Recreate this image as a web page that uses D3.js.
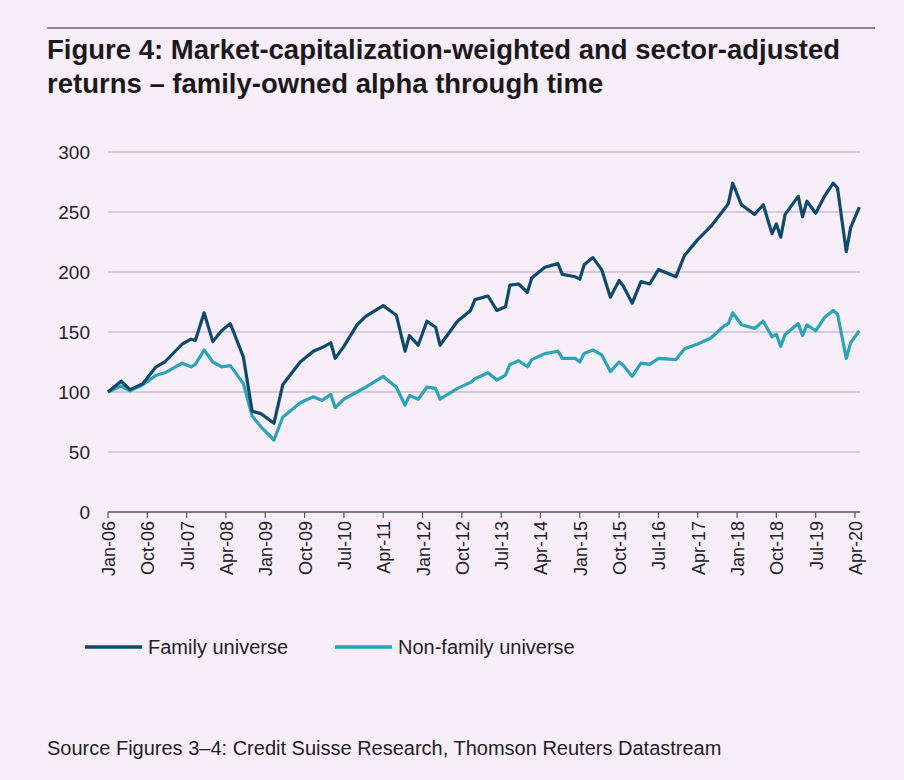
<!DOCTYPE html>
<html><head><meta charset="utf-8">
<script src="https://cdn.jsdelivr.net/npm/d3@7"></script>
<style>
body{margin:0;background:#f7eefa;}
svg{font-family:"Liberation Sans",Arial,sans-serif;}
</style></head>
<body><svg id="chart" width="904" height="780"></svg>
<script>
// months since Jan-06
var months = [0,3,5,8,11,13,17,19,20,22,24,26,28,31,33,35,38,40,44,47,49,51,52,54,57,59,63,66,68,69,71,73,75,76,80,83,84,87,89,91,92,94,96,97,100,103,104,107,108,109,111,113,115,117,118,120,122,124,126,130,132,135,138,141,142,143,145,148,150,152,153,154,155,158,159,160,162,164,166,167,169,170,172];
var family = [100,109,102,107,121,125,140,144,143,166,142,151,157,129,84,82,74,106,125,134,137,141,128,138,156,163,172,164,134,147,139,159,154,139,159,168,177,180,168,171,189,190,183,195,204,207,198,196,194,206,212,202,179,193,188,174,192,190,202,196,214,227,238,252,257,274,256,248,256,232,240,229,248,263,246,259,249,263,274,270,217,237,254];
var nonFamily = [100,105,101,106,114,116,124,121,123,135,125,121,122,107,80,71,60,79,91,96,93,98,87,94,100,104,113,104,89,97,94,104,103,94,103,108,111,116,110,114,123,126,121,127,132,134,128,128,125,132,135,131,117,125,122,113,124,123,128,127,136,140,145,155,157,166,156,153,159,146,148,138,148,157,147,156,151,162,168,165,128,141,151];
var tickLabels = ["Jan-06","Oct-06","Jul-07","Apr-08","Jan-09","Oct-09","Jul-10","Apr-11","Jan-12","Oct-12","Jul-13","Apr-14","Jan-15","Oct-15","Jul-16","Apr-17","Jan-18","Oct-18","Jul-19","Apr-20"];
var yTicks = [0,50,100,150,200,250,300];

var svg = d3.select("#chart");
svg.append("line").attr("x1",47).attr("x2",875).attr("y1",28).attr("y2",28).attr("stroke","#222").attr("stroke-width",1.2);
svg.append("text").attr("x",47).attr("y",59).attr("font-size",27.5).attr("font-weight","bold").attr("fill","#1a1a1a").text("Figure 4: Market-capitalization-weighted and sector-adjusted");
svg.append("text").attr("x",47).attr("y",93).attr("font-size",27.5).attr("font-weight","bold").attr("fill","#1a1a1a").text("returns \u2013 family-owned alpha through time");

var x = d3.scaleLinear().domain([0,171]).range([108,855]);
var y = d3.scaleLinear().domain([0,300]).range([512,152]);

var grid = svg.append("g");
grid.selectAll("line").data(yTicks).enter().append("line")
  .attr("x1",108).attr("x2",860)
  .attr("y1",function(d){return y(d);}).attr("y2",function(d){return y(d);})
  .attr("stroke",function(d){return d===0?"#555":"#c8bcd3";}).attr("stroke-width",1.5);
grid.selectAll("text").data(yTicks).enter().append("text")
  .attr("x",90).attr("y",function(d){return y(d)+7;}).attr("text-anchor","end")
  .attr("font-size",19).attr("fill","#222").text(function(d){return d;});

var xt = svg.append("g");
tickLabels.forEach(function(t,i){
  var px = x(i*9);
  xt.append("line").attr("x1",px).attr("x2",px).attr("y1",512).attr("y2",518).attr("stroke","#555").attr("stroke-width",1.2);
  xt.append("text").attr("transform","translate("+(px+7)+",521) rotate(-90)")
    .attr("text-anchor","end").attr("font-size",18).attr("fill","#222").text(t);
});

var line = d3.line().x(function(d){return x(d[0]);}).y(function(d){return y(d[1]);});
svg.append("path").datum(months.map(function(m,i){return [m,nonFamily[i]];}))
  .attr("d",line).attr("fill","none").attr("stroke","#2ba4b8").attr("stroke-width",3.2).attr("stroke-linejoin","round");
svg.append("path").datum(months.map(function(m,i){return [m,family[i]];}))
  .attr("d",line).attr("fill","none").attr("stroke","#0f4a6c").attr("stroke-width",3.2).attr("stroke-linejoin","round");

var leg = [["Family universe","#0f4a6c",85],["Non-family universe","#2ba4b8",335]];
leg.forEach(function(l){
  svg.append("line").attr("x1",l[2]).attr("x2",l[2]+57).attr("y1",647).attr("y2",647).attr("stroke",l[1]).attr("stroke-width",3.5);
  svg.append("text").attr("x",l[2]+63).attr("y",654).attr("font-size",20).attr("fill","#222").text(l[0]);
});
svg.append("text").attr("x",47).attr("y",755).attr("font-size",20).attr("fill","#222")
  .text("Source Figures 3\u20134: Credit Suisse Research, Thomson Reuters Datastream");
</script></body></html>
